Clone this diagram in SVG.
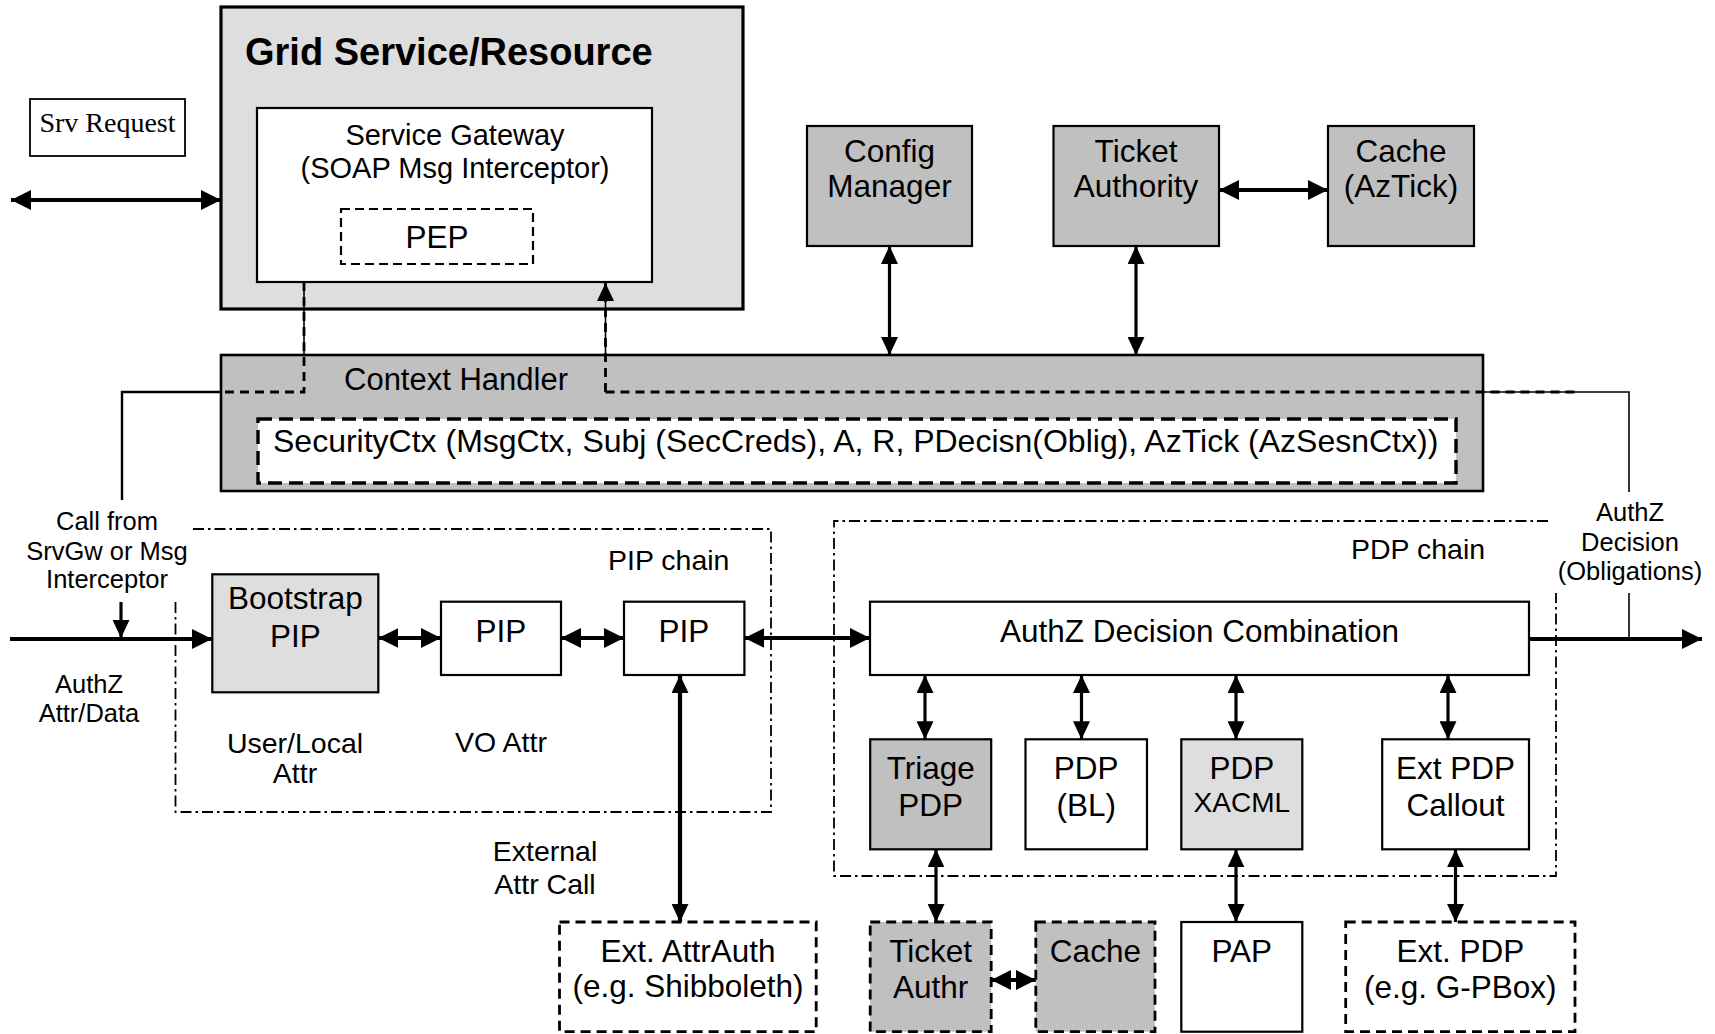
<svg xmlns="http://www.w3.org/2000/svg" width="1715" height="1034" viewBox="0 0 1715 1034">
<style>
text{font-family:"Liberation Sans",Arial,sans-serif;fill:#000}
.n{font-size:31.5px;text-anchor:middle}
.l{font-size:25.5px;text-anchor:middle}
.m{font-size:28.5px;text-anchor:middle}
.b{stroke:#000;stroke-width:2.2}
.dg{fill:#c0c0c0}.lg{fill:#dedede}.w{fill:#fff}
.d{stroke-dasharray:10 6;stroke-width:2.8}
.chain{fill:none;stroke:#000;stroke-width:1.8;stroke-dasharray:11 4 2.5 4}
.c{fill:none;stroke:#000;stroke-width:3.2}
.ct{fill:none;stroke:#000;stroke-width:4.2}
.th{fill:none;stroke:#000;stroke-width:1.6}
</style>
<defs>
<marker id="a" viewBox="0 0 18 17" refX="18" refY="8.5" markerWidth="18" markerHeight="17" markerUnits="userSpaceOnUse" orient="auto-start-reverse"><path d="M0,0 L18,8.5 L0,17 z" fill="#000"/></marker>
<marker id="A" viewBox="0 0 20 20" refX="20" refY="10" markerWidth="20" markerHeight="20" markerUnits="userSpaceOnUse" orient="auto-start-reverse"><path d="M0,0 L20,10 L0,20 z" fill="#000"/></marker>
</defs>

<g id="grid-service">
<rect x="221" y="7" width="522" height="302" class="lg" stroke="#000" stroke-width="3.2"/>
<text x="245" y="65" style="font-size:38px;font-weight:bold">Grid Service/Resource</text>
</g>
<g id="service-gateway">
<rect x="257" y="108" width="395" height="174" class="w b"/>
<text x="455" y="145" style="font-size:29px;text-anchor:middle">Service Gateway</text>
<text x="455" y="178" style="font-size:29px;text-anchor:middle">(SOAP Msg Interceptor)</text>
</g>
<g id="pep">
<rect x="341" y="209" width="192" height="55" class="w b" stroke-dasharray="9 5" stroke-width="2.8"/>
<text x="437" y="248" class="n">PEP</text>
</g>
<g id="srv-request">
<rect x="30" y="99" width="155" height="57" class="w" stroke="#000" stroke-width="1.8"/>
<text x="107.5" y="132" style="font-family:'Liberation Serif','Times New Roman',serif;font-size:28px;text-anchor:middle">Srv Request</text>
</g>
<g id="config-manager">
<rect x="807" y="126" width="165" height="120" class="dg b"/>
<text x="889.5" y="162" class="n">Config</text>
<text x="889.5" y="197" class="n">Manager</text>
</g>
<g id="ticket-authority">
<rect x="1053.5" y="126" width="165.5" height="120" class="dg b"/>
<text x="1136" y="162" class="n">Ticket</text>
<text x="1136" y="197" class="n">Authority</text>
</g>
<g id="cache-aztick">
<rect x="1328" y="126" width="146" height="120" class="dg b"/>
<text x="1401" y="162" class="n">Cache</text>
<text x="1401" y="197" class="n">(AzTick)</text>
</g>
<g id="context-handler">
<rect x="221" y="355" width="1262" height="136" class="dg" stroke="#000" stroke-width="2.6"/>
<text x="344" y="390" style="font-size:31px">Context Handler</text>
</g>
<g id="security-ctx">
<rect x="258" y="419" width="1198" height="64" class="w" stroke="#000" stroke-width="3.4" stroke-dasharray="14 7"/>
<text x="273" y="452" style="font-size:32px">SecurityCtx (MsgCtx, Subj (SecCreds), A, R, PDecisn(Oblig), AzTick (AzSesnCtx))</text>
</g>

<g id="pip-chain">
<path d="M175.5,602 V812 H771 V529 H190" class="chain"/>
<text x="608" y="570" style="font-size:28.5px">PIP chain</text>
</g>
<g id="pdp-chain">
<path d="M1548,521 H834 V876 H1556 V593" class="chain"/>
<text x="1351" y="559" style="font-size:28.5px">PDP chain</text>
</g>

<g id="bootstrap-pip">
<rect x="212.3" y="574.3" width="166" height="118" class="lg b"/>
<text x="295.3" y="609" class="n">Bootstrap</text>
<text x="295.3" y="647" class="n">PIP</text>
</g>
<g id="pip1">
<rect x="441" y="601.7" width="120" height="73.3" class="w b"/>
<text x="501" y="642" class="n">PIP</text>
</g>
<g id="pip2">
<rect x="624" y="601.7" width="120.4" height="73.3" class="w b"/>
<text x="684" y="642" class="n">PIP</text>
</g>
<g id="authz-combination">
<rect x="870" y="601.7" width="659" height="73.3" class="w b"/>
<text x="1199.5" y="642" class="n">AuthZ Decision Combination</text>
</g>
<g id="triage-pdp">
<rect x="870.2" y="739.3" width="121" height="110" class="dg b"/>
<text x="930.7" y="779" class="n">Triage</text>
<text x="930.7" y="816" class="n">PDP</text>
</g>
<g id="pdp-bl">
<rect x="1025.5" y="739.3" width="121.5" height="110" class="w b"/>
<text x="1086.2" y="779" class="n">PDP</text>
<text x="1086.2" y="816" class="n">(BL)</text>
</g>
<g id="pdp-xacml">
<rect x="1181.3" y="739.3" width="121" height="110" class="lg b"/>
<text x="1241.8" y="779" class="n">PDP</text>
<text x="1241.8" y="812" style="font-size:28px;text-anchor:middle">XACML</text>
</g>
<g id="ext-pdp-callout">
<rect x="1382.2" y="739.3" width="146.8" height="110" class="w b"/>
<text x="1455.6" y="779" class="n">Ext PDP</text>
<text x="1455.6" y="816" class="n">Callout</text>
</g>
<g id="ticket-authr">
<rect x="870.2" y="922" width="121" height="109.7" class="dg b d"/>
<text x="930.7" y="962" class="n">Ticket</text>
<text x="930.7" y="998" class="n">Authr</text>
</g>
<g id="cache">
<rect x="1035.8" y="922" width="119.2" height="109.7" class="dg b d"/>
<text x="1095.4" y="962" class="n">Cache</text>
</g>
<g id="pap">
<rect x="1181.3" y="922" width="121" height="109.7" class="w b"/>
<text x="1241.8" y="962" class="n">PAP</text>
</g>
<g id="ext-pdp">
<rect x="1345.7" y="922" width="229.3" height="109.7" class="w b d"/>
<text x="1460.3" y="962" class="n">Ext. PDP</text>
<text x="1460.3" y="998" class="n">(e.g. G-PBox)</text>
</g>
<g id="ext-attrauth">
<rect x="559.5" y="922" width="256.7" height="109.7" class="w b d"/>
<text x="688" y="962" class="n">Ext. AttrAuth</text>
<text x="688" y="997" class="n">(e.g. Shibboleth)</text>
</g>

<g id="labels">
<text x="107" y="530" class="l">Call from</text>
<text x="107" y="560" class="l">SrvGw or Msg</text>
<text x="107" y="588" class="l">Interceptor</text>
<text x="89" y="693" class="l">AuthZ</text>
<text x="89" y="722" class="l">Attr/Data</text>
<text x="1630" y="521" class="l">AuthZ</text>
<text x="1630" y="551" class="l">Decision</text>
<text x="1630" y="580" class="l">(Obligations)</text>
<text x="295" y="753" class="m">User/Local</text>
<text x="295" y="783" class="m">Attr</text>
<text x="501" y="752" class="m">VO Attr</text>
<text x="545" y="861" class="m">External</text>
<text x="545" y="894" class="m">Attr Call</text>
</g>

<g id="connectors">
<path d="M11,200 H221" class="ct" marker-start="url(#A)" marker-end="url(#A)"/>
<path d="M889.5,246 V355" class="c" marker-start="url(#a)" marker-end="url(#a)"/>
<path d="M1136,246 V355" class="c" marker-start="url(#a)" marker-end="url(#a)"/>
<path d="M1219,190 H1328" class="ct" marker-start="url(#A)" marker-end="url(#A)"/>
<path d="M304,282 V355" class="th"/>
<path d="M304,282 V392 H222" fill="none" stroke="#000" stroke-width="2.8" stroke-dasharray="9 6"/>
<path d="M222,392 H122 V500" fill="none" stroke="#000" stroke-width="2.4"/>
<path d="M605.5,355 V282" class="th"/>
<path d="M605.5,392 V283" fill="none" stroke="#000" stroke-width="2.8" stroke-dasharray="9 6" marker-end="url(#a)"/>
<path d="M605.5,392 H1576" fill="none" stroke="#000" stroke-width="2.8" stroke-dasharray="9 6"/>
<path d="M1483,392 H1629 V492" class="th"/>
<path d="M1629,593 V639" class="th"/>
<path d="M10,639 H212" class="ct" marker-end="url(#A)"/>
<path d="M121,602 V638" class="c" marker-end="url(#a)"/>
<path d="M378.3,638 H441" class="ct" marker-start="url(#A)" marker-end="url(#A)"/>
<path d="M561,638 H624" class="ct" marker-start="url(#A)" marker-end="url(#A)"/>
<path d="M744.4,638 H870" class="ct" marker-start="url(#A)" marker-end="url(#A)"/>
<path d="M1529,639 H1702" class="ct" marker-end="url(#A)"/>
<path d="M925,675 V739.3" class="c" marker-start="url(#a)" marker-end="url(#a)"/>
<path d="M1081.5,675 V739.3" class="c" marker-start="url(#a)" marker-end="url(#a)"/>
<path d="M1236,675 V739.3" class="c" marker-start="url(#a)" marker-end="url(#a)"/>
<path d="M1448,675 V739.3" class="c" marker-start="url(#a)" marker-end="url(#a)"/>
<path d="M936,849.3 V922" class="c" marker-start="url(#a)" marker-end="url(#a)"/>
<path d="M1236,849.3 V922" class="c" marker-start="url(#a)" marker-end="url(#a)"/>
<path d="M1455.5,849.3 V922" class="c" marker-start="url(#a)" marker-end="url(#a)"/>
<path d="M680,675 V922" class="ct" marker-start="url(#a)" marker-end="url(#a)"/>
<path d="M991.2,980 H1035.8" class="ct" marker-start="url(#A)" marker-end="url(#A)"/>
</g>
</svg>
